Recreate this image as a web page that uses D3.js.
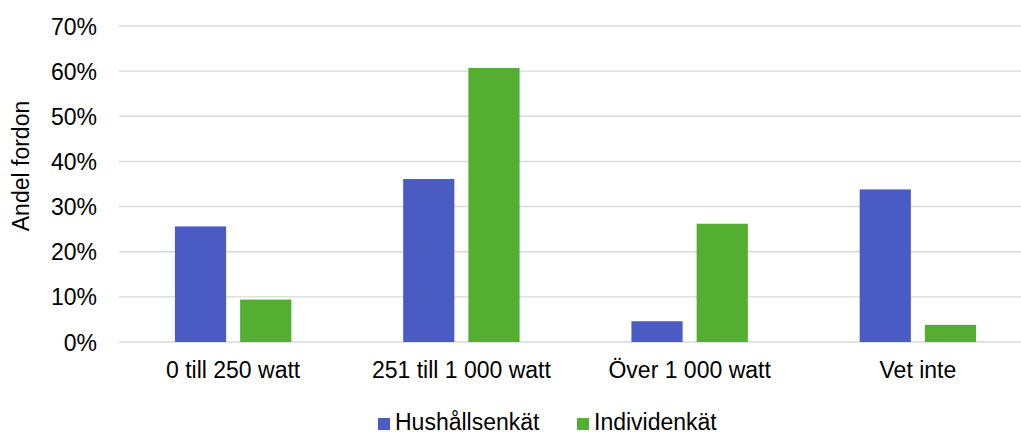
<!DOCTYPE html>
<html>
<head>
<meta charset="utf-8">
<script src="https://cdn.jsdelivr.net/npm/d3@7"></script>
<style>
  html, body { margin: 0; padding: 0; background: #fff; }
  svg { display: block; font-family: "Liberation Sans", Arial, sans-serif; }
</style>
</head>
<body>
<svg id="chart" width="1021" height="432"></svg>
<script>
// Effektklasser för elcyklar
const categories = ["0 till 250 watt", "251 till 1 000 watt", "Över 1 000 watt", "Vet inte"];
const seriesNames = ["Hushållsenkät", "Individenkät"];
const hushall = [0.256, 0.361, 0.046, 0.338];
const individ = [0.094, 0.607, 0.262, 0.038];
const yTicks = [0, 0.1, 0.2, 0.3, 0.4, 0.5, 0.6, 0.7];
const colors = ["#4a5cc4", "#54ae32"];

const svg = d3.select("#chart");
const W = 1021, H = 432;
const plotLeft = 119, plotRight = 1032, plotTop = 26, plotBottom = 342;

const x0 = d3.scaleBand().domain(categories).range([plotLeft, plotRight]).paddingInner(0).paddingOuter(0);
const bw = x0.bandwidth();
const x1 = d3.scaleBand().domain(seriesNames).range([bw * 0.245, bw * 0.755]).paddingInner(0.215);
const y = d3.scaleLinear().domain([0, 0.7]).range([plotBottom, plotTop]);

// horisontella stödlinjer
svg.append("g").selectAll("line").data(yTicks).join("line")
  .attr("x1", plotLeft).attr("x2", W)
  .attr("y1", d => y(d)).attr("y2", d => y(d))
  .attr("stroke", "#d9d9d9").attr("stroke-width", 1.4);

// y-axelns etiketter
const yAxis = d3.axisLeft(y).tickValues(yTicks).tickFormat(d3.format(".0%")).tickSize(0).tickPadding(0);
const ya = svg.append("g").attr("transform", "translate(97,0)").call(yAxis);
ya.select(".domain").remove();
ya.selectAll("text").attr("font-size", 23).attr("fill", "#000")
  .attr("font-family", "Liberation Sans, Arial, sans-serif").attr("dy", "0.35em");

// staplar
const rows = categories.map((c, i) => ({ cat: c, vals: [hushall[i], individ[i]] }));
const groups = svg.append("g").selectAll("g").data(rows).join("g")
  .attr("transform", d => `translate(${x0(d.cat)},0)`);
groups.selectAll("rect").data(d => d.vals.map((v, j) => ({ s: seriesNames[j], v, j })))
  .join("rect")
  .attr("x", d => x1(d.s))
  .attr("width", x1.bandwidth())
  .attr("y", d => y(d.v))
  .attr("height", d => y(0) - y(d.v))
  .attr("fill", d => colors[d.j]);

// kategorietiketter
const xAxis = d3.axisBottom(x0).tickSize(0).tickPadding(0);
const xa = svg.append("g").attr("transform", `translate(0,${plotBottom})`).call(xAxis);
xa.select(".domain").remove();
xa.selectAll("text").attr("font-size", 23).attr("fill", "#000")
  .attr("font-family", "Liberation Sans, Arial, sans-serif")
  .attr("y", 36).attr("dy", 0);

// y-axelns titel
svg.append("text")
  .attr("transform", "translate(29,166) rotate(-90)")
  .attr("text-anchor", "middle")
  .attr("font-size", 23).attr("fill", "#000")
  .text("Andel fordon");

// teckenförklaring
const legend = svg.append("g");
const legendX = [378, 577];
seriesNames.forEach((name, i) => {
  const g = legend.append("g").attr("transform", `translate(${legendX[i]},0)`);
  g.append("rect").attr("x", 0).attr("y", 418).attr("width", 12).attr("height", 12).attr("fill", colors[i]);
  g.append("text").attr("x", 17).attr("y", 429.5).attr("font-size", 23).attr("fill", "#000").text(name);
});
</script>
</body>
</html>
